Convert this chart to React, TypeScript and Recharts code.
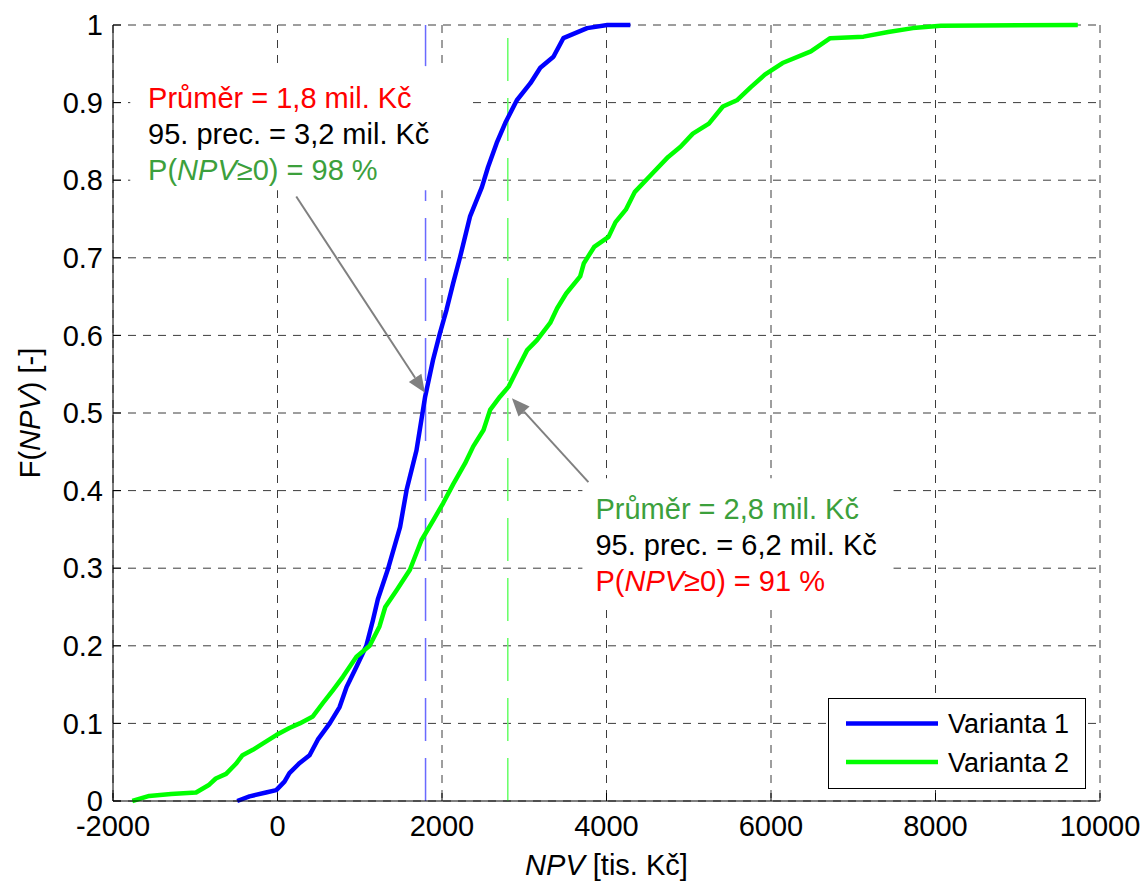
import React from 'react'
import {
  CartesianGrid,
  Legend,
  Line,
  LineChart,
  ReferenceArea,
  ReferenceDot,
  ReferenceLine,
  XAxis,
  YAxis,
} from 'recharts'

// Empirical CDF of NPV [tis. Kč] for both variants
const npvVarianta1 = [
  -490, -340, -140, -15, 85, 145, 270, 390, 490, 635, 755, 840, 960, 1080, 1160, 1220, 1340,
  1490, 1570, 1690, 1795, 1890, 1975, 2055, 2135, 2220, 2340, 2485, 2560, 2665, 2770, 2910,
  3075, 3195, 3355, 3475, 3765, 4010, 4290,
]
const cdfVarianta1 = [
  0, 0.006, 0.011, 0.014, 0.025, 0.036, 0.049, 0.059, 0.079, 0.1, 0.121, 0.147, 0.173, 0.2,
  0.233, 0.26, 0.298, 0.353, 0.401, 0.452, 0.521, 0.568, 0.603, 0.633, 0.667, 0.701, 0.753,
  0.791, 0.817, 0.848, 0.874, 0.903, 0.925, 0.945, 0.959, 0.983, 0.996, 1, 1,
]

const npvVarianta2 = [
  -1765, -1560, -1295, -990, -830, -750, -625, -505, -425, -300, -180, -15, 145, 270, 430,
  550, 675, 795, 960, 1120, 1240, 1310, 1450, 1610, 1750, 1895, 2015, 2140, 2280, 2380, 2505,
  2585, 2705, 2810, 2910, 3035, 3155, 3315, 3400, 3510, 3680, 3725, 3850, 4025, 4110, 4235,
  4345, 4560, 4750, 4900, 5050, 5245, 5415, 5585, 5755, 5925, 6140, 6485, 6720, 7125, 7425,
  7725, 8065, 9730,
]
const cdfVarianta2 = [
  0, 0.0065, 0.009, 0.011, 0.021, 0.029, 0.035, 0.048, 0.059, 0.066, 0.074, 0.085, 0.094, 0.1,
  0.109, 0.126, 0.143, 0.16, 0.186, 0.2, 0.225, 0.25, 0.272, 0.298, 0.336, 0.362, 0.384, 0.409,
  0.435, 0.457, 0.478, 0.504, 0.521, 0.534, 0.555, 0.581, 0.594, 0.616, 0.635, 0.654, 0.676,
  0.693, 0.714, 0.727, 0.746, 0.762, 0.785, 0.809, 0.83, 0.843, 0.86, 0.873, 0.895, 0.903,
  0.92, 0.936, 0.951, 0.966, 0.983, 0.985, 0.991, 0.996, 0.999, 1,
]

const xTicks = [-2000, 0, 2000, 4000, 6000, 8000, 10000]
const yTicks = [0, 0.1, 0.2, 0.3, 0.4, 0.5, 0.6, 0.7, 0.8, 0.9, 1]

// mean values (vertical markers)
const mean1 = 1800
const mean2 = 2800

const FONT = '"Liberation Sans", Arial, Helvetica, sans-serif'
const BLUE = '#0000ff'
const LIME = '#00ff00'
const RED = '#ff0000'
const DARK_GREEN = '#3ca03c'

const series1 = npvVarianta1.map((npv, i) => ({ npv, F: cdfVarianta1[i] }))
const series2 = npvVarianta2.map((npv, i) => ({ npv, F: cdfVarianta2[i] }))

type Part = { t: string; italic?: boolean }
type NoteLine = { color: string; parts: Part[] }

const note1: NoteLine[] = [
  { color: RED, parts: [{ t: 'Průměr = 1,8 mil. Kč' }] },
  { color: '#000', parts: [{ t: '95. prec. = 3,2 mil. Kč' }] },
  { color: DARK_GREEN, parts: [{ t: 'P(' }, { t: 'NPV', italic: true }, { t: '≥0) = 98 %' }] },
]
const note2: NoteLine[] = [
  { color: DARK_GREEN, parts: [{ t: 'Průměr = 2,8 mil. Kč' }] },
  { color: '#000', parts: [{ t: '95. prec. = 6,2 mil. Kč' }] },
  { color: RED, parts: [{ t: 'P(' }, { t: 'NPV', italic: true }, { t: '≥0) = 91 %' }] },
]

function Note({ cx, cy, lines }: { cx: number; cy: number; lines: NoteLine[] }) {
  return (
    <g>
      {lines.map((ln, i) => (
        <text key={i} x={cx} y={cy + i * 36} fill={ln.color} fontSize={29} fontFamily={FONT}>
          {ln.parts.map((p, j) => (
            <tspan key={j} fontStyle={p.italic ? 'italic' : 'normal'}>
              {p.t}
            </tspan>
          ))}
        </text>
      ))}
    </g>
  )
}

// gray annotation arrow with a filled head at the second point
function Arrow(props: any) {
  const { x1, y1, x2, y2 } = props
  const ang = Math.atan2(y2 - y1, x2 - x1)
  const len = 18
  const half = 7.5
  const bx = x2 - len * Math.cos(ang)
  const by = y2 - len * Math.sin(ang)
  const px = -Math.sin(ang) * half
  const py = Math.cos(ang) * half
  return (
    <g>
      <line x1={x1} y1={y1} x2={bx} y2={by} stroke='#808080' strokeWidth={2} />
      <polygon
        points={`${x2},${y2} ${bx + px},${by + py} ${bx - px},${by - py}`}
        fill='#808080'
      />
    </g>
  )
}

function renderLegend({ payload }: any) {
  return (
    <svg width={258} height={91} style={{ display: 'block' }}>
      <rect x={0.5} y={0.5} width={257} height={90} fill='#fff' stroke='#000' />
      {(payload || []).map((entry: any, i: number) => {
        const y = 25.5 + i * 38.5
        return (
          <g key={entry.value}>
            <line x1={18} x2={110} y1={y} y2={y} stroke={entry.color} strokeWidth={4.5} />
            <text x={120} y={y + 9.5} fontSize={27} fontFamily={FONT} fill='#000'>
              {entry.value}
            </text>
          </g>
        )
      })}
    </svg>
  )
}

const tickStyle = { fill: '#000', fontSize: 29, fontFamily: FONT }

export default function App() {
  return (
    <div style={{ position: 'absolute', left: 0, top: 0, background: '#fff' }}>
      <LineChart width={1145} height={881} margin={{ top: 25, right: 45, bottom: 0, left: 0 }}>
        <CartesianGrid stroke='#3c3c3c' strokeDasharray='8 7' strokeWidth={1} />
        <XAxis
          dataKey='npv'
          type='number'
          domain={[-2000, 10000]}
          ticks={xTicks}
          allowDataOverflow
          height={80}
          stroke='#000'
          tickSize={-8}
          tickMargin={22.4}
          tick={tickStyle}
          label={({ viewBox }: any) => (
            <text
              x={viewBox.x + viewBox.width / 2}
              y={875}
              textAnchor='middle'
              fontSize={29}
              fontFamily={FONT}
              fill='#000'
            >
              <tspan fontStyle='italic'>NPV</tspan>
              <tspan> [tis. Kč]</tspan>
            </text>
          )}
        />
        <XAxis
          xAxisId='top'
          orientation='top'
          type='number'
          domain={[-2000, 10000]}
          ticks={xTicks}
          height={0}
          stroke='#000'
          tickSize={-8}
          tick={false}
        />
        <YAxis
          type='number'
          domain={[0, 1]}
          ticks={yTicks}
          width={113}
          stroke='#000'
          tickSize={-8}
          tickMargin={18}
          tick={tickStyle}
          tickFormatter={(v: number) => (v === 0 || v === 1 ? String(v) : v.toFixed(1))}
          label={({ viewBox }: any) => {
            const cy = viewBox.y + viewBox.height / 2
            return (
              <text
                x={40}
                y={cy}
                transform={`rotate(-90 40 ${cy})`}
                textAnchor='middle'
                fontSize={29}
                fontFamily={FONT}
                fill='#000'
              >
                <tspan>F(</tspan>
                <tspan fontStyle='italic'>NPV</tspan>
                <tspan>) [-]</tspan>
              </text>
            )
          }}
        />
        <YAxis
          yAxisId='right'
          orientation='right'
          type='number'
          domain={[0, 1]}
          ticks={yTicks}
          width={0}
          stroke='#000'
          tickSize={-8}
          tick={false}
        />

        {/* white backdrops behind the two text notes */}
        <ReferenceArea x1={-1790} x2={2305} y1={0.787} y2={0.947} fill='#fff' fillOpacity={1} stroke='none' />
        <ReferenceArea x1={3707} x2={7490} y1={0.251} y2={0.416} fill='#fff' fillOpacity={1} stroke='none' />

        {/* mean markers; the blue one is interrupted by the upper note */}
        <ReferenceLine
          segment={[{ x: mean1, y: 0 }, { x: mean1, y: 0.787 }]}
          stroke='#6a6aff'
          strokeWidth={1.5}
          strokeDasharray='43 17'
        />
        <ReferenceLine
          segment={[{ x: mean1, y: 1 }, { x: mean1, y: 0.947 }]}
          stroke='#6a6aff'
          strokeWidth={1.5}
          strokeDasharray='43 17'
        />
        <ReferenceLine
          segment={[{ x: mean2, y: 0 }, { x: mean2, y: 1 }]}
          stroke='#66ff66'
          strokeWidth={1.5}
          strokeDasharray='43 17'
        />

        <Line
          data={series1}
          dataKey='F'
          name='Varianta 1'
          type='linear'
          stroke={BLUE}
          strokeWidth={4.5}
          strokeLinejoin='round'
          dot={false}
          activeDot={false}
          isAnimationActive={false}
        />
        <Line
          data={series2}
          dataKey='F'
          name='Varianta 2'
          type='linear'
          stroke={LIME}
          strokeWidth={4.5}
          strokeLinejoin='round'
          dot={false}
          activeDot={false}
          isAnimationActive={false}
        />

        <ReferenceLine segment={[{ x: 228, y: 0.779 }, { x: 1793, y: 0.526 }]} shape={Arrow} />
        <ReferenceLine segment={[{ x: 3780, y: 0.411 }, { x: 2850, y: 0.519 }]} shape={Arrow} />

        <ReferenceDot
          x={-1573}
          y={0.8934}
          r={0}
          shape={(p: any) => <Note cx={p.cx} cy={p.cy} lines={note1} />}
        />
        <ReferenceDot
          x={3866}
          y={0.363}
          r={0}
          shape={(p: any) => <Note cx={p.cx} cy={p.cy} lines={note2} />}
        />

        <Legend
          layout='vertical'
          align='center'
          verticalAlign='middle'
          content={renderLegend}
          wrapperStyle={{ left: 828, top: 698, width: 258, height: 91 }}
        />
      </LineChart>
    </div>
  )
}
